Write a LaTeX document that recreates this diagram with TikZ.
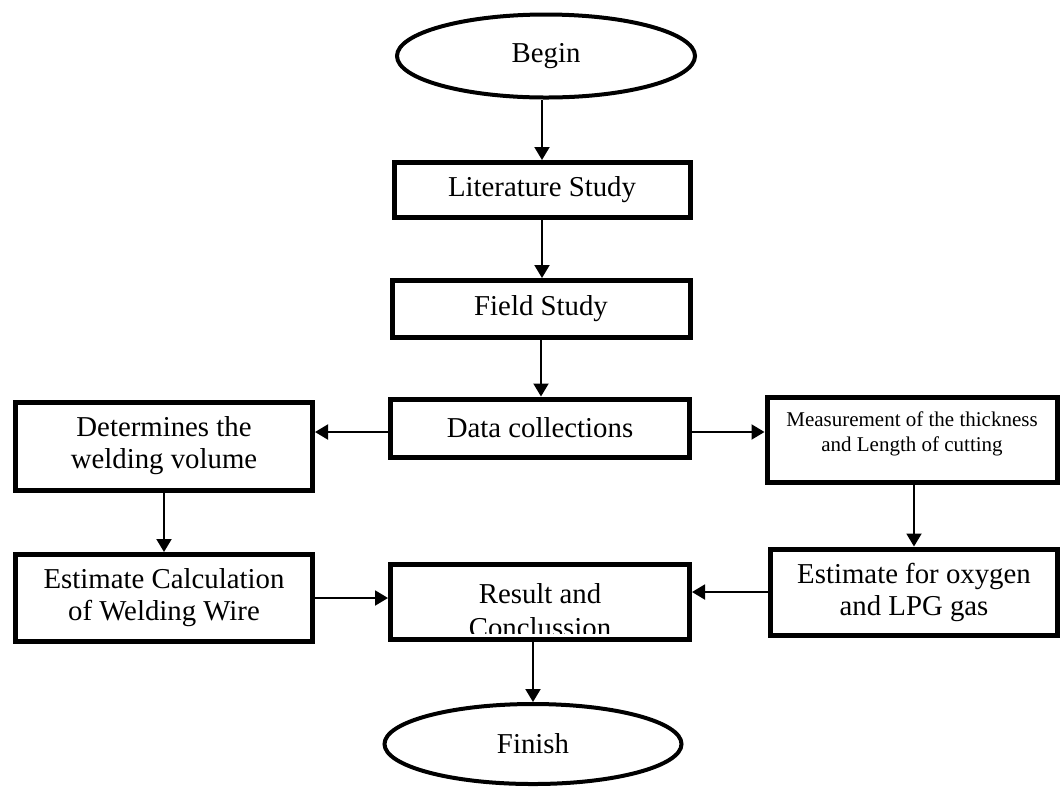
\documentclass[tikz,border=0pt]{standalone}
\usepackage{fontspec}
\setmainfont{Liberation Serif}
\usetikzlibrary{arrows.meta,positioning,shapes.geometric}

\begin{document}
\begin{tikzpicture}[x=0.5pt,y=-0.5pt,
    stepbox/.style={draw,line width=2.5pt,align=center,inner sep=2pt,
      font=\fontsize{14.4}{16}\selectfont},
    term/.style={draw,ellipse,line width=2pt,inner sep=0pt,
      font=\fontsize{14.4}{16}\selectfont},
    flow/.style={-{Triangle[length=6.5pt,width=7.5pt]},line width=1pt}]
  \useasboundingbox (0,0) rectangle (1063,789);

  % centre column
  \node[term,minimum width=149pt,minimum height=41.5pt] (begin) at (546,56) {Begin};
  \node[stepbox,minimum width=148pt,minimum height=27.5pt] (lit) at (542,190) {Literature Study};
  \node[stepbox,minimum width=149pt,minimum height=28.5pt] (field) at (541,309) {Field Study};
  \node[stepbox,minimum width=149.5pt,minimum height=29pt] (data) at (540,428) {Data collections};
  \node[stepbox,minimum width=149.5pt,minimum height=37.5pt] (res) at (540,602) {};
  \begin{scope}
    \clip (388,562) rectangle (692,633);
    \node[align=center,font=\fontsize{14.4}{17}\selectfont] (restext) at (540,611) {Result and\\Conclussion};
  \end{scope}
  \node[term,minimum width=148.5pt,minimum height=40pt] (fin) at (533,744) {Finish};

  % left column
  \node[stepbox,minimum width=148.5pt,minimum height=44pt] (det) at (164,446) {Determines the\\welding volume};
  \node[stepbox,minimum width=148.5pt,minimum height=43.5pt] (calc) at (164,598) {Estimate Calculation\\of Welding Wire};

  % right column
  \node[stepbox,minimum width=145pt,minimum height=42.5pt] (meas) at (912,440) {};
  \node[align=center,font=\fontsize{10.5}{12.5}\selectfont,below=5pt of meas.north] (meastext)
    {Measurement of the thickness\\and Length of cutting};
  \node[stepbox,minimum width=143.5pt,minimum height=43pt] (oxy) at (914,592) {Estimate for oxygen\\and LPG gas};

  % arrows
  \draw[flow] (lit.north |- begin.south) -- (lit.north);
  \draw[flow] (lit.south) -- (lit.south |- field.north);
  \draw[flow] (field.south) -- (field.south |- data.north);
  \draw[flow] ([yshift=-2pt]data.west) -- ([yshift=-2pt]det.east |- data.west);
  \draw[flow] ([yshift=-2pt]data.east) -- ([yshift=-2pt]meas.west |- data.east);
  \draw[flow] (det.south) -- (det.south |- calc.north);
  \draw[flow] (oxy.north |- meas.south) -- (oxy.north);
  \draw[flow] (calc.east) -- (calc.east -| res.west);
  \draw[flow] (oxy.west) -- (oxy.west -| res.east);
  \draw[flow] (fin.north |- res.south) -- (fin.north);
\end{tikzpicture}
\end{document}
